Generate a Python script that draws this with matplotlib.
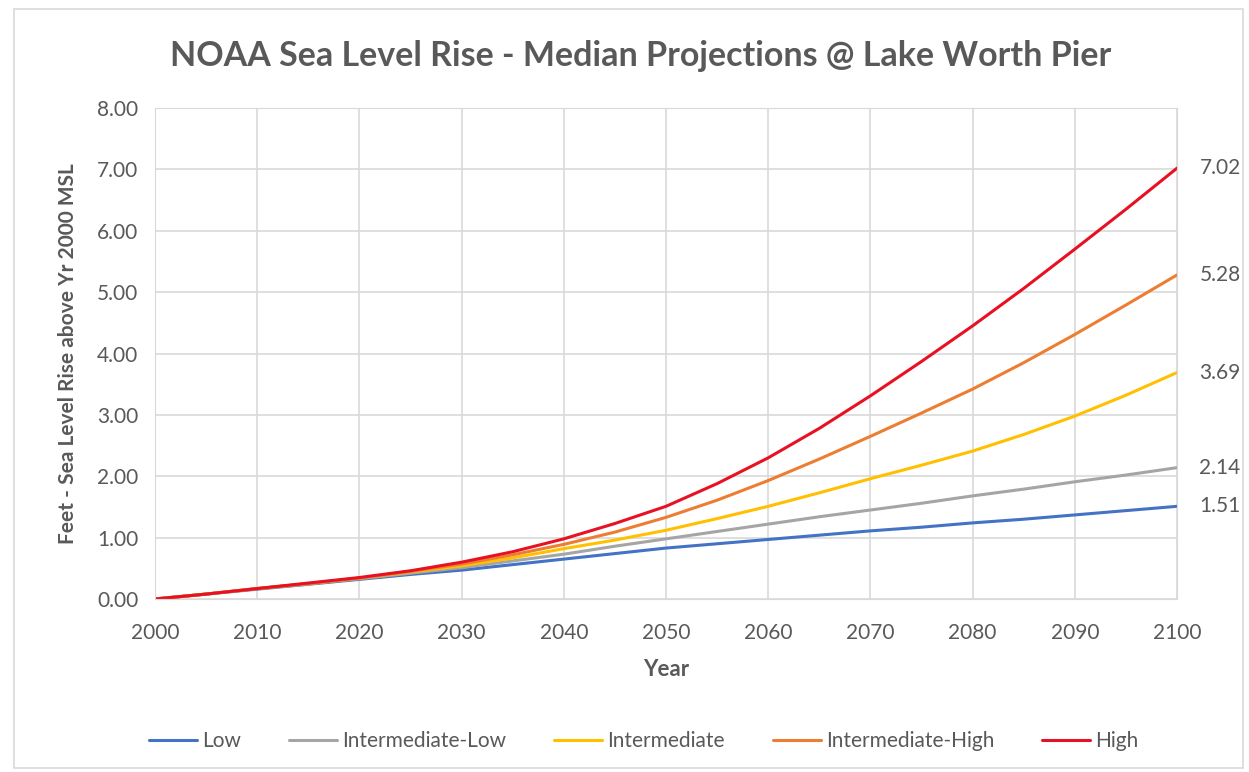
import matplotlib
matplotlib.use("Agg")
import matplotlib.pyplot as plt
from matplotlib.patches import Rectangle

# Datos (pies sobre el nivel medio del 2000), cada 5 anios
years = list(range(2000, 2101, 5))
low = [0.00, 0.08, 0.16, 0.24, 0.32, 0.40, 0.47, 0.56, 0.65, 0.74, 0.83,
       0.90, 0.97, 1.04, 1.11, 1.17, 1.24, 1.30, 1.37, 1.44, 1.51]
int_low = [0.00, 0.08, 0.17, 0.25, 0.33, 0.42, 0.51, 0.62, 0.73, 0.86, 0.98,
           1.10, 1.22, 1.34, 1.45, 1.56, 1.68, 1.79, 1.91, 2.02, 2.14]
intermediate = [0.00, 0.08, 0.17, 0.25, 0.34, 0.44, 0.54, 0.67, 0.82, 0.96, 1.12,
                1.31, 1.51, 1.73, 1.96, 2.18, 2.41, 2.68, 2.98, 3.32, 3.69]
int_high = [0.00, 0.08, 0.17, 0.25, 0.34, 0.45, 0.57, 0.72, 0.89, 1.09, 1.33,
            1.61, 1.93, 2.28, 2.65, 3.03, 3.42, 3.85, 4.31, 4.79, 5.28]
high = [0.00, 0.08, 0.17, 0.26, 0.35, 0.46, 0.60, 0.77, 0.98, 1.23, 1.51,
        1.88, 2.30, 2.78, 3.31, 3.87, 4.45, 5.06, 5.70, 6.35, 7.02]

series_names = ["Low", "Intermediate-Low", "Intermediate", "Intermediate-High", "High"]
series_vals = [low, int_low, intermediate, int_high, high]
colors = ["#4472C4", "#A5A5A5", "#FFC000", "#ED7D31", "#E81123"]

text_color = "#595959"
grid_color = "#D9D9D9"
plt.rcParams["font.family"] = ["Lato", "DejaVu Sans"]

fig = plt.figure(figsize=(12.49, 7.72), dpi=100)
ax = fig.add_axes([155 / 1249, 1 - 599 / 772, (1177 - 155) / 1249, (599 - 108) / 772])

for name, vals, c in zip(series_names, series_vals, colors):
    ax.plot(years, vals, color=c, lw=2.2, label=name, solid_capstyle="round",
            solid_joinstyle="round")
    ax.text(years[-1] + 2.2, vals[-1], f"{vals[-1]:.2f}", color=text_color,
            fontsize=15, va="center", ha="left")

ax.set_xlim(2000, 2100)
ax.set_ylim(0, 8)
ax.set_xticks(range(2000, 2101, 10))
ax.set_yticks(range(0, 9))
ax.set_yticklabels([f"{v:.2f}" for v in range(0, 9)])
ax.tick_params(length=0, labelsize=15, labelcolor=text_color)
ax.tick_params(axis="x", pad=17)
ax.tick_params(axis="y", pad=12)
ax.grid(True, color=grid_color, lw=1.2)
ax.set_axisbelow(True)
for s in ax.spines.values():
    s.set_color(grid_color)

ax.set_xlabel("Year", fontsize=16, fontweight="bold", color=text_color, labelpad=12)
ax.set_ylabel("Feet - Sea Level Rise above Yr 2000 MSL", fontsize=15,
              fontweight="bold", color=text_color, labelpad=14)

fig.text(0.513, 0.927, "NOAA Sea Level Rise - Median Projections @ Lake Worth Pier",
         ha="center", va="center", fontsize=24.5, fontweight="bold", color=text_color)

fig.legend(loc="center", bbox_to_anchor=(0.5156, 0.040), ncol=5, frameon=False,
           fontsize=15, handlelength=2.3, columnspacing=2.3, handletextpad=0.25,
           labelcolor=text_color)

# borde del area del grafico
fig.patches.append(Rectangle((14 / 1249, 0.005), 1 - 20 / 1249, 1 - 9 / 772 - 0.005,
                             transform=fig.transFigure, fill=False,
                             edgecolor=grid_color, lw=1.2))

fig.savefig("out.png", dpi=100, facecolor="white")
